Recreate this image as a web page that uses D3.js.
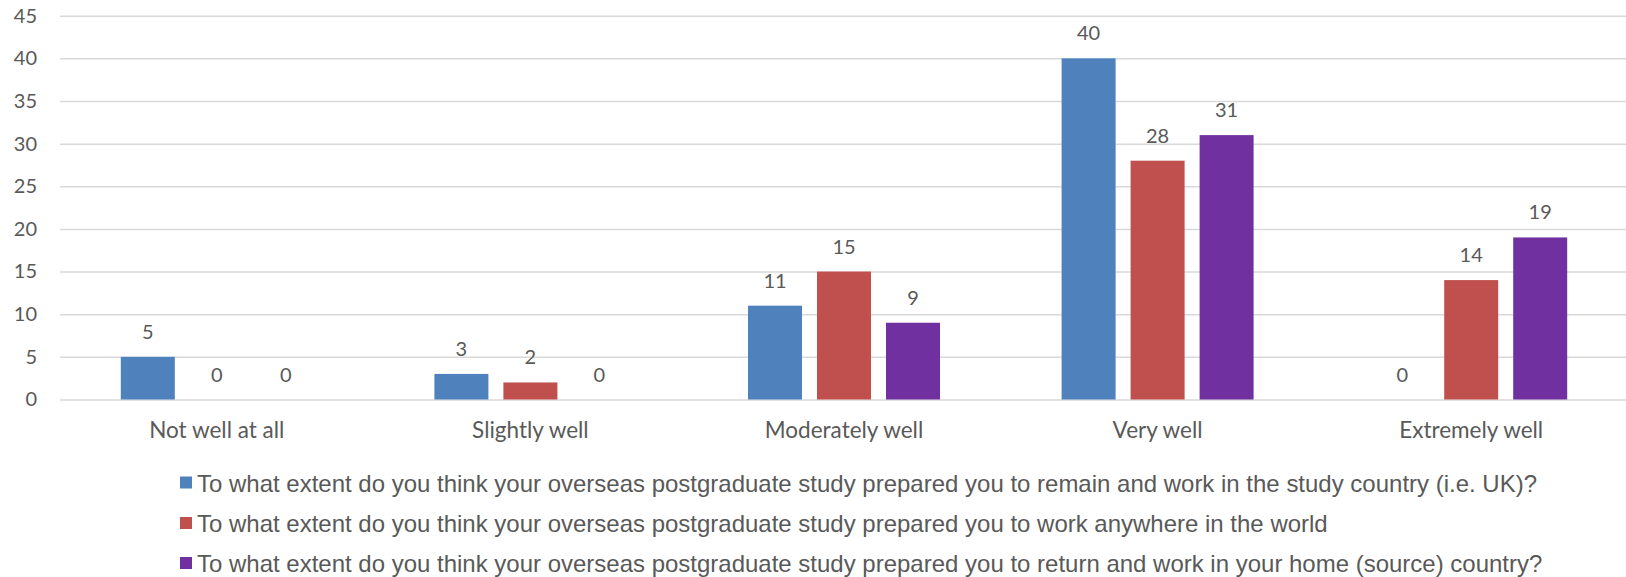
<!DOCTYPE html>
<html>
<head>
<meta charset="utf-8">
<script src="https://cdn.jsdelivr.net/npm/d3@7"></script>
<style>
  html, body { margin: 0; padding: 0; background: #fff; }
  svg { display: block; }
</style>
</head>
<body>
<svg id="chart" width="1626" height="577"></svg>
<script>
const categories = ["Not well at all", "Slightly well", "Moderately well", "Very well", "Extremely well"];
const seriesNames = [
  "To what extent do you think your overseas postgraduate study prepared you to remain and work in the study country (i.e. UK)?",
  "To what extent do you think your overseas postgraduate study prepared you to work anywhere in the world",
  "To what extent do you think your overseas postgraduate study prepared you to return and work in your home (source) country?"
];
const remainUK = [5, 3, 11, 40, 0];
const anywhere = [0, 2, 15, 28, 14];
const homeCountry = [0, 0, 9, 31, 19];
const yTicks = [0, 5, 10, 15, 20, 25, 30, 35, 40, 45];
const colors = ["#4F81BD", "#C0504D", "#7030A0"];

const seriesValues = [remainUK, anywhere, homeCountry];
const svg = d3.select("#chart");
const textColor = "#595959";

const x0 = d3.scaleBand().domain(categories).range([60, 1628]).padding(0);
const groupW = 192;
const bw0 = x0.bandwidth();
const x1 = d3.scaleBand().domain([0, 1, 2])
  .range([(bw0 - groupW) / 2, (bw0 + groupW) / 2]).paddingInner(15 / 69).paddingOuter(0);
const y = d3.scaleLinear().domain([0, 45]).range([399.5, 15.7]);

// gridlines
const yAxis = d3.axisLeft(y).tickValues(yTicks).tickSize(-(1626 - 60)).tickPadding(23);
const gy = svg.append("g").attr("transform", "translate(60,0)").call(yAxis);
gy.select(".domain").remove();
gy.selectAll(".tick line").attr("stroke", "#D9D9D9").attr("stroke-width", 1.5);
gy.selectAll(".tick text").attr("fill", textColor)
  .style("font-family", "Lato, sans-serif").style("font-size", "20px");

// bars
const data = [];
categories.forEach((c, i) => seriesValues.forEach((vals, s) => data.push({ c, s, v: vals[i] })));

svg.append("g").selectAll("rect").data(data.filter(d => d.v > 0)).join("rect")
  .attr("x", d => x0(d.c) + x1(d.s))
  .attr("y", d => y(d.v))
  .attr("width", x1.bandwidth())
  .attr("height", d => y(0) - y(d.v))
  .attr("fill", d => colors[d.s]);

// data labels
svg.append("g").selectAll("text").data(data).join("text")
  .attr("x", d => x0(d.c) + x1(d.s) + x1.bandwidth() / 2)
  .attr("y", d => y(d.v) - 18)
  .attr("text-anchor", "middle")
  .attr("fill", textColor)
  .style("font-family", "Lato, sans-serif").style("font-size", "20px")
  .text(d => d.v);

// x axis labels
const xAxis = d3.axisBottom(x0).tickSize(0).tickPadding(23);
const gx = svg.append("g").attr("transform", `translate(0,${y(0)})`).call(xAxis);
gx.select(".domain").remove();
gx.selectAll(".tick text").attr("fill", textColor)
  .style("font-family", "Lato, sans-serif").style("font-size", "22.5px");

// legend
const legend = svg.append("g");
const rowBase = [491.5, 532, 572];
const lg = legend.selectAll("g").data(seriesNames).join("g");
lg.append("rect")
  .attr("x", 180).attr("y", (d, i) => rowBase[i] - 15)
  .attr("width", 12).attr("height", 12)
  .attr("fill", (d, i) => colors[i]);
const lt = lg.append("text")
  .attr("x", 197).attr("y", (d, i) => rowBase[i])
  .attr("fill", textColor)
  .style("font-family", "'Liberation Sans', Arial, sans-serif").style("font-size", "24px")
  .text(d => d);
// original legend text is horizontally condensed; fit first row width
const firstW = lt.nodes()[0].getComputedTextLength();
const sx = (1537 - 197) / firstW;
lt.each(function () {
  const w = this.getComputedTextLength();
  d3.select(this).attr("textLength", w * sx).attr("lengthAdjust", "spacingAndGlyphs");
});
</script>
</body>
</html>
